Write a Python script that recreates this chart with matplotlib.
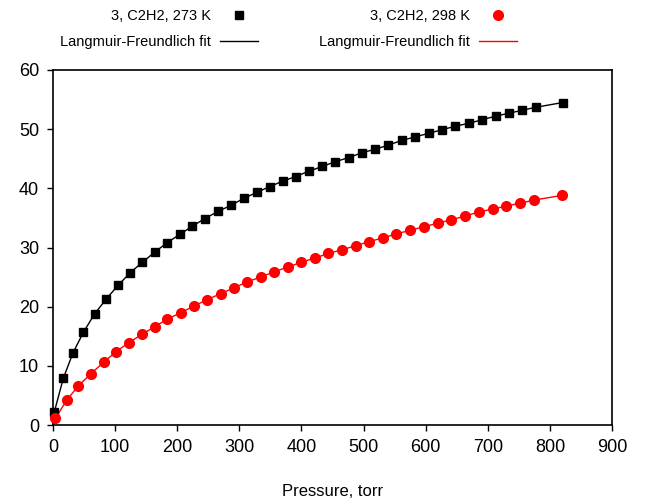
import numpy as np
import matplotlib
matplotlib.use('Agg')
import matplotlib.pyplot as plt

plt.rcParams['font.family'] = ['Liberation Sans', 'DejaVu Sans']

# 273 K isotherm
p_273 = [2.1, 16.6, 32.2, 49.1, 67.1, 85.8, 104.7, 124.0, 143.8, 163.7,
         183.5, 204.0, 224.3, 244.7, 265.7, 286.1, 307.0, 328.0, 348.9, 369.8,
         390.8, 412.2, 433.6, 454.5, 476.1, 497.0, 518.4, 539.8, 561.4, 583.3,
         604.9, 626.3, 647.7, 669.8, 691.2, 712.7, 734.2, 755.6, 777.2, 820.6]
q_273 = [2.2, 7.9, 12.2, 15.7, 18.8, 21.3, 23.6, 25.7, 27.5, 29.2,
         30.8, 32.2, 33.6, 34.9, 36.1, 37.1, 38.3, 39.3, 40.3, 41.2,
         42.0, 42.9, 43.7, 44.5, 45.2, 46.0, 46.6, 47.3, 48.1, 48.7,
         49.3, 49.9, 50.5, 51.0, 51.6, 52.2, 52.7, 53.2, 53.7, 54.5]

# 298 K isotherm
p_298 = [3.7, 22.1, 40.7, 61.2, 81.6, 101.4, 121.9, 142.8, 163.7, 184.0,
         206.1, 227.0, 248.4, 270.0, 291.9, 312.8, 334.4, 356.3, 377.9, 399.8,
         421.3, 443.2, 464.8, 487.4, 508.8, 530.8, 552.7, 574.8, 596.8, 619.4,
         641.3, 663.3, 685.4, 707.9, 729.8, 752.4, 773.9, 819.0]
q_298 = [1.1, 4.2, 6.6, 8.7, 10.6, 12.4, 13.9, 15.3, 16.6, 17.9,
         19.0, 20.1, 21.2, 22.2, 23.2, 24.2, 25.0, 25.9, 26.7, 27.5,
         28.2, 29.0, 29.6, 30.3, 31.0, 31.6, 32.3, 32.9, 33.5, 34.1,
         34.7, 35.3, 36.0, 36.5, 37.0, 37.5, 38.0, 38.8]

fig = plt.figure(figsize=(6.5, 5.04), dpi=100)
ax = fig.add_axes([53/650, 79/504, 559/650, 355/504])

fit1, = ax.plot(p_273, q_273, color='black', lw=1.0, zorder=2)
dat1, = ax.plot(p_273, q_273, ls='none', marker='s', ms=5.5, color='black', zorder=3, clip_on=False)
fit2, = ax.plot(p_298, q_298, color='red', lw=1.0, zorder=2)
dat2, = ax.plot(p_298, q_298, ls='none', marker='o', ms=7, color='red', zorder=3, clip_on=False)

ax.set_xlim(0, 900)
ax.set_ylim(0, 60)
ax.set_xticks(np.arange(0, 901, 100))
ax.set_yticks(np.arange(0, 61, 10))
ax.tick_params(direction='out', length=4, width=1, labelsize=13, pad=6)
for s in ax.spines.values():
    s.set_linewidth(1.2)
ax.set_xlabel('Pressure, torr', fontsize=12, labelpad=20)

kw = dict(frameon=False, markerfirst=False, fontsize=10.5, handlelength=2.6,
          handletextpad=0.6, labelspacing=0.85, borderpad=0, borderaxespad=0,
          loc='upper right', bbox_transform=fig.transFigure)
leg1 = ax.legend([dat1, fit1], ['3, C2H2, 273 K', 'Langmuir-Freundlich fit'],
                 bbox_to_anchor=(258/650, 1 - 9/504), **kw)
ax.add_artist(leg1)
ax.legend([dat2, fit2], ['3, C2H2, 298 K', 'Langmuir-Freundlich fit'],
          bbox_to_anchor=(517/650, 1 - 9/504), **kw)

fig.savefig('out.png', dpi=100)
